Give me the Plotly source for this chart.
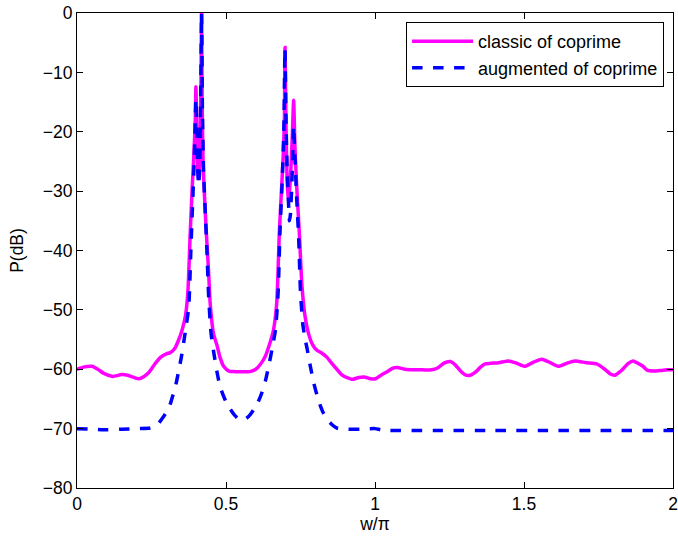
import plotly.graph_objects as go

# classic of coprime (magenta, solid)
classic_x = [0.000, 0.025, 0.050, 0.070, 0.090, 0.120, 0.150, 0.170, 0.207, 0.225,
             0.240, 0.260, 0.280, 0.300, 0.313, 0.328, 0.340, 0.352, 0.364, 0.372,
             0.380, 0.386, 0.392, 0.397, 0.399, 0.401, 0.404, 0.407, 0.410, 0.413,
             0.416, 0.418, 0.420, 0.423, 0.428, 0.434, 0.441, 0.447, 0.458, 0.470,
             0.480, 0.492, 0.510, 0.530, 0.560, 0.580, 0.600, 0.615, 0.632, 0.648,
             0.659, 0.670, 0.679, 0.686, 0.692, 0.696, 0.698, 0.701, 0.705, 0.709,
             0.713, 0.718, 0.723, 0.727, 0.731, 0.737, 0.746, 0.755, 0.765, 0.777,
             0.790, 0.805, 0.822, 0.839, 0.855, 0.872, 0.890, 0.906, 0.924, 0.945,
             0.963, 0.985, 1.002, 1.020, 1.041, 1.060, 1.075, 1.100, 1.130, 1.160,
             1.190, 1.210, 1.230, 1.253, 1.270, 1.287, 1.305, 1.320, 1.337, 1.353,
             1.370, 1.387, 1.415, 1.448, 1.476, 1.504, 1.532, 1.560, 1.588, 1.615,
             1.643, 1.671, 1.710, 1.744, 1.771, 1.790, 1.805, 1.820, 1.833, 1.850,
             1.866, 1.882, 1.899, 1.915, 1.935, 1.960, 1.980, 2.000]
classic_y = [-60.0, -59.6, -59.5, -60.0, -60.7, -61.2, -60.9, -61.0, -61.6, -61.2,
             -60.6, -59.2, -58.0, -57.4, -57.2, -56.5, -55.2, -53.5, -51.0, -47.0,
             -37.0, -30.0, -24.0, -18.0, -12.4, -17.0, -25.0, -27.9, -27.0, -22.0,
             -12.0, 0.0, -15.0, -25.0, -31.0, -37.0, -43.0, -49.0, -54.0, -56.0,
             -58.0, -59.5, -60.3, -60.4, -60.4, -60.4, -60.0, -59.2, -57.8, -55.5,
             -53.5, -49.0, -37.0, -30.0, -24.0, -18.0, -5.8, -18.0, -28.0, -31.8,
             -30.0, -26.0, -20.0, -14.7, -22.0, -29.0, -37.0, -46.0, -51.0, -54.0,
             -55.8, -56.8, -57.3, -58.0, -59.0, -60.0, -61.0, -61.4, -61.7, -61.4,
             -61.3, -61.6, -61.6, -61.0, -60.4, -59.8, -59.7, -60.0, -60.1, -60.1,
             -60.1, -59.8, -59.0, -58.7, -59.3, -60.3, -61.0, -61.0, -60.5, -59.7,
             -59.1, -59.0, -58.9, -58.6, -59.0, -59.5, -58.8, -58.3, -58.9, -59.5,
             -59.0, -58.6, -58.9, -59.1, -60.0, -60.8, -61.0, -60.5, -59.9, -59.0,
             -58.6, -59.0, -59.5, -60.2, -60.3, -60.2, -60.1, -60.1]

# augmented of coprime (blue, dashed)
augmented_x = [0.000, 0.050, 0.100, 0.150, 0.200, 0.246, 0.262, 0.274, 0.290, 0.302,
               0.314, 0.324, 0.333, 0.340, 0.350, 0.358, 0.367, 0.375, 0.382, 0.388,
               0.394, 0.399, 0.402, 0.405, 0.408, 0.411, 0.414, 0.418, 0.421, 0.425,
               0.430, 0.436, 0.442, 0.450, 0.459, 0.470, 0.480, 0.494, 0.509, 0.528,
               0.548, 0.560, 0.570, 0.582, 0.593, 0.607, 0.620, 0.632, 0.643, 0.655,
               0.666, 0.675, 0.681, 0.688, 0.694, 0.698, 0.701, 0.705, 0.709, 0.713,
               0.716, 0.720, 0.724, 0.727, 0.731, 0.737, 0.744, 0.750, 0.758, 0.766,
               0.772, 0.783, 0.794, 0.805, 0.817, 0.828, 0.839, 0.855, 0.872, 0.906,
               0.950, 1.000, 1.020, 1.050, 1.200, 1.400, 1.600, 1.800, 2.000]
augmented_y = [-70.0, -70.1, -70.2, -70.1, -70.0, -69.9, -69.6, -69.1, -68.0, -67.1,
               -65.7, -64.0, -62.3, -60.6, -58.0, -55.5, -52.5, -49.5, -40.0, -32.0,
               -24.0, -14.5, -20.0, -26.0, -29.0, -27.0, -20.0, 0.0, -17.0, -27.0,
               -33.0, -40.0, -48.0, -54.0, -57.2, -60.5, -62.9, -64.8, -66.3, -67.7,
               -68.6, -68.5, -68.2, -67.6, -66.8, -65.6, -64.0, -62.0, -59.5, -56.5,
               -53.3, -47.0, -37.0, -29.0, -20.0, -6.0, -17.0, -26.0, -31.0, -35.0,
               -34.0, -30.0, -24.0, -19.0, -24.0, -31.0, -38.0, -47.0, -52.5, -55.0,
               -56.5, -59.5, -62.2, -64.3, -66.2, -67.5, -68.4, -69.3, -69.9, -70.1,
               -70.1, -70.0, -70.2, -70.3, -70.3, -70.3, -70.3, -70.3, -70.3]

x_ticks = [0, 0.5, 1, 1.5, 2]
y_ticks = [-80, -70, -60, -50, -40, -30, -20, -10, 0]

FONT = "Liberation Sans, Arial, Helvetica, sans-serif"

fig = go.Figure()
fig.add_trace(go.Scatter(x=classic_x, y=classic_y, mode="lines",
                         name="classic of coprime",
                         line=dict(color="#ff00ff", width=3.5, shape="spline",
                                   smoothing=0.6)))
fig.add_trace(go.Scatter(x=augmented_x, y=augmented_y, mode="lines",
                         name="augmented of coprime",
                         line=dict(color="#0000ff", width=3.5, dash="dash",
                                   shape="spline", smoothing=0.6)))

axis_common = dict(showline=True, linecolor="black", linewidth=1.2, mirror="ticks",
                   ticks="inside", ticklen=6, tickcolor="black", showgrid=False,
                   zeroline=False, automargin=False, ticklabeloverflow="allow",
                   tickfont=dict(family=FONT, size=17.5, color="black"))

fig.update_xaxes(range=[0, 2], tickvals=x_ticks, ticktext=[str(v) for v in x_ticks],
                 title=dict(text="w/π", font=dict(family=FONT, size=17.5, color="black"),
                            standoff=0),
                 **axis_common)
fig.update_yaxes(range=[-80, 0], tickvals=y_ticks,
                 title=dict(text="P(dB)", font=dict(family=FONT, size=17.5, color="black"),
                            standoff=14),
                 **axis_common)

fig.update_layout(
    width=678, height=536,
    margin=dict(l=77, r=5, t=13, b=48),
    plot_bgcolor="white", paper_bgcolor="white",
    font=dict(family=FONT, size=17.5, color="black"),
    legend=dict(x=0.985, y=0.981, xanchor="right", yanchor="top",
                bordercolor="black", borderwidth=1, bgcolor="white",
                font=dict(family=FONT, size=18, color="black"),
                tracegroupgap=0, itemwidth=61),
    showlegend=True,
)

fig.write_html("out.html", config={"displayModeBar": False},
               post_script="document.body.style.margin='0';document.body.style.overflow='hidden';")
